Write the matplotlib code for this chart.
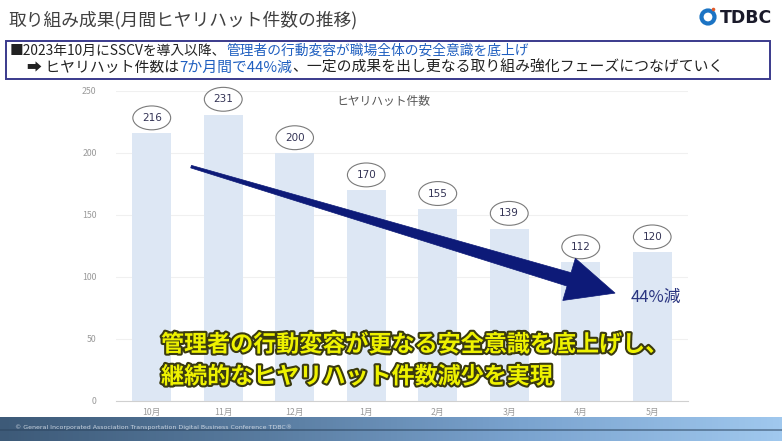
import matplotlib
matplotlib.use("Agg")
import matplotlib.pyplot as plt
import numpy as np
from matplotlib.patches import Polygon, Rectangle, Ellipse
from matplotlib.transforms import IdentityTransform
from matplotlib.colors import LinearSegmentedColormap
import matplotlib.patheffects as pe

plt.rcParams['font.family'] = ['Noto Sans CJK JP', 'DejaVu Sans']

# ---- data ----
months = ['10月', '11月', '12月', '1月', '2月', '3月', '4月', '5月']
counts = [216, 231, 200, 170, 155, 139, 112, 120]
yticks = [0, 50, 100, 150, 200, 250]
chart_title = 'ヒヤリハット件数'
page_title = '取り組み成果(月間ヒヤリハット件数の推移)'
line1 = [('■2023年10月にSSCVを導入以降、', '#222222'),
         ('管理者の行動変容が職場全体の安全意識を底上げ', '#1f5fc0')]
line2 = [('➡ ヒヤリハット件数は', '#222222'),
         ('7か月間で44%減', '#1f5fc0'),
         ('、一定の成果を出し更なる取り組み強化フェーズにつなげていく', '#222222')]
reduction_label = '44%減'
message = ['管理者の行動変容が更なる安全意識を底上げし、',
           '継続的なヒヤリハット件数減少を実現']
footer = '© General Incorporated Association Transportation Digital Business Conference TDBC®'
arrow_tail = (0.55, 189)
arrow_tip = (6.48, 87)

W, H = 782, 441
fig = plt.figure(figsize=(W / 100, H / 100), dpi=100)
fig.patch.set_facecolor('white')

def fx(px):
    return px / W

def fy(py):
    return 1 - py / H

# ---- footer band (gradient) ----
fax = fig.add_axes([0, 0, 1, 24 / H])
grad = np.linspace(0, 1, 256)[None, :]
cmap = LinearSegmentedColormap.from_list('f', ['#3d5a78', '#587b9f', '#7aa3cf', '#a0c8ee'])
fax.imshow(grad, aspect='auto', cmap=cmap, extent=[0, 1, 0, 1])
fax.axhline(0.45, color='#2c4560', lw=1.2, alpha=0.6)
fax.set_axis_off()
fig.text(fx(15), fy(427), footer, fontsize=4.5, color='#c9d3df', va='center', ha='left',
         family=['DejaVu Sans'])

# ---- main chart ----
ax = fig.add_axes([fx(116), fy(401), (688 - 116) / W, (401 - 91) / H])
x = np.arange(len(months))
ax.bar(x, counts, width=0.545, color='#dde7f4', zorder=2)
ax.set_xlim(-0.5, len(months) - 0.5)
ax.set_ylim(0, 250)
ax.set_yticks(yticks)
ax.set_yticklabels([str(v) for v in yticks])
ax.set_xticks(x)
ax.set_xticklabels(months)
ax.tick_params(axis='both', length=0, labelsize=6.3, labelcolor='#9a9a9a')
ax.tick_params(axis='y', pad=14)
ax.tick_params(axis='x', pad=5)
for s in ['top', 'right', 'left']:
    ax.spines[s].set_visible(False)
ax.spines['bottom'].set_color('#d0d0d0')
ax.spines['bottom'].set_linewidth(0.8)
ax.grid(axis='y', color='#f0f0f0', lw=0.8, zorder=0)
ax.set_axisbelow(True)

for xi, v in zip(x, counts):
    ax.annotate(str(v), xy=(xi, v), xytext=(0, 11), textcoords='offset points',
                ha='center', va='center', fontsize=7.5, color='#333355',
                bbox=dict(boxstyle='ellipse,pad=0.33', fc='white', ec='#7a7a7a', lw=0.8),
                zorder=5, family=['DejaVu Sans'])

fig.text(fx(383), fy(101), chart_title, fontsize=8.5, color='#555555', ha='center', va='center')

# ---- tapered arrow ----
fig.canvas.draw()
T = np.array(ax.transData.transform(arrow_tail))
P = np.array(ax.transData.transform(arrow_tip))
d = (P - T) / np.linalg.norm(P - T)
n = np.array([-d[1], d[0]])
L, Hh, w0, w1 = 48, 22, 1.3, 7.0
B = P - d * L
pts = [T + n * w0, B + n * w1, B + n * Hh, P, B - n * Hh, B - n * w1, T - n * w0]
arrow = Polygon(pts, closed=True, transform=IdentityTransform(), fc='#0d1a78', ec='#0d1a78',
                lw=0.5, zorder=6)
fig.add_artist(arrow)

fig.text(fx(656), fy(297), reduction_label, fontsize=12, color='#2a3580', ha='center', va='center')

# ---- yellow message ----
for i, line in enumerate(message):
    fig.text(fx(161), fy(345 + 32 * i), line, fontsize=16.6, fontweight='bold', color='#eef200',
             ha='left', va='center', zorder=10,
             path_effects=[pe.withStroke(linewidth=3.0, foreground='#3a3a10')])

# ---- header ----
fig.text(fx(9), fy(20), page_title, fontsize=12.8, color='#404040', ha='left', va='center')

fig.add_artist(Rectangle((fx(6), fy(79)), (770 - 6) / W, (79 - 41) / H, transform=fig.transFigure,
                         fill=False, ec='#3a3a8c', lw=1.4))

renderer = fig.canvas.get_renderer()

def draw_segments(segs, px, py, size):
    xcur = fx(px)
    for txt, col in segs:
        t = fig.text(xcur, fy(py), txt, fontsize=size, color=col, ha='left', va='center')
        bb = t.get_window_extent(renderer)
        xcur = fig.transFigure.inverted().transform((bb.x1, bb.y0))[0]

draw_segments(line1, 10, 51, 9.9)
draw_segments(line2, 27, 68, 10.7)

# logo
r = 6.5
fig.add_artist(Ellipse((fx(708), fy(17)), 2 * r / W, 2 * r / H, transform=fig.transFigure,
                       fill=False, ec='#1c74c4', lw=3))
fig.add_artist(Ellipse((fx(713.5), fy(9.5)), 3.6 / W, 3.6 / H, transform=fig.transFigure,
                       fc='#e05a2a', ec='none'))
fig.text(fx(720), fy(18), 'TDBC', fontsize=12.5, fontweight='bold', color='#1a1a2a',
         ha='left', va='center', family=['DejaVu Sans'])

fig.savefig('out.png', dpi=100)
